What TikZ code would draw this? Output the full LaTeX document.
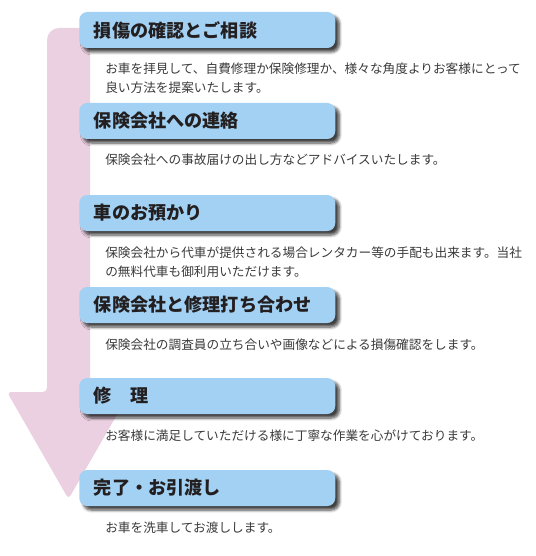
\documentclass[tikz,border=0pt]{standalone}
\usepackage{fontspec}
\setmainfont{Noto Sans CJK JP}
\usetikzlibrary{shadows.blur}
\definecolor{boxblue}{HTML}{A3D1F3}
\definecolor{arrowpink}{HTML}{EAD0E1}
\definecolor{titlegray}{HTML}{231F20}
\definecolor{descgray}{HTML}{3A3A3A}

\begin{document}
\begin{tikzpicture}[x=0.75pt,y=-0.75pt,
    stepbox/.style={draw=none,fill=boxblue,rounded corners=6pt,anchor=west,
        minimum height=27pt,text width=170pt,inner xsep=11pt,align=left,
        text=titlegray,font=\fontsize{13.6}{16}\selectfont\bfseries,
        blur shadow={shadow xshift=3pt,shadow yshift=-3pt,shadow blur steps=6,shadow opacity=75}},
    desc/.style={anchor=base west,align=left,inner sep=0pt,text=descgray,
        font=\fontsize{9.5}{13.9}\selectfont}]
    \useasboundingbox (0,0) rectangle (535,556);
    % big arrow behind the steps
    \fill[arrowpink,rounded corners=3pt] (47,392)
        [rounded corners=9pt] -- (47,28) -- (90,28)
        [rounded corners=3pt] -- (90,392) -- (130,392) -- (68.5,499) -- (7,392) -- cycle;
    % steps
    \node[stepbox] (t1) at (79,30) {損傷の確認とご相談};
    \node[stepbox] (t2) at (79,121) {保険会社への連絡};
    \node[stepbox] (t3) at (79,213) {車のお預かり};
    \node[stepbox] (t4) at (79,305) {保険会社と修理打ち合わせ};
    \node[stepbox] (t5) at (79,396) {修　理};
    \node[stepbox] (t6) at (79,488) {完了・お引渡し};
    % descriptions (base = last line)
    \node[desc] (d1) at (105,92.5) {お車を拝見して、自費修理か保険修理か、様々な角度よりお客様にとって\\良い方法を提案いたします。};
    \node[desc] (d2) at (105,165) {保険会社への事故届けの出し方などアドバイスいたします。};
    \node[desc] (d3) at (105,276) {保険会社から代車が提供される場合レンタカー等の手配も出来ます。当社\\の無料代車も御利用いただけます。};
    \node[desc] (d4) at (105,349) {保険会社の調査員の立ち合いや画像などによる損傷確認をします。};
    \node[desc] (d5) at (105,440) {お客様に満足していただける様に丁寧な作業を心がけております。};
    \node[desc] (d6) at (105,532) {お車を洗車してお渡しします。};
\end{tikzpicture}
\end{document}
